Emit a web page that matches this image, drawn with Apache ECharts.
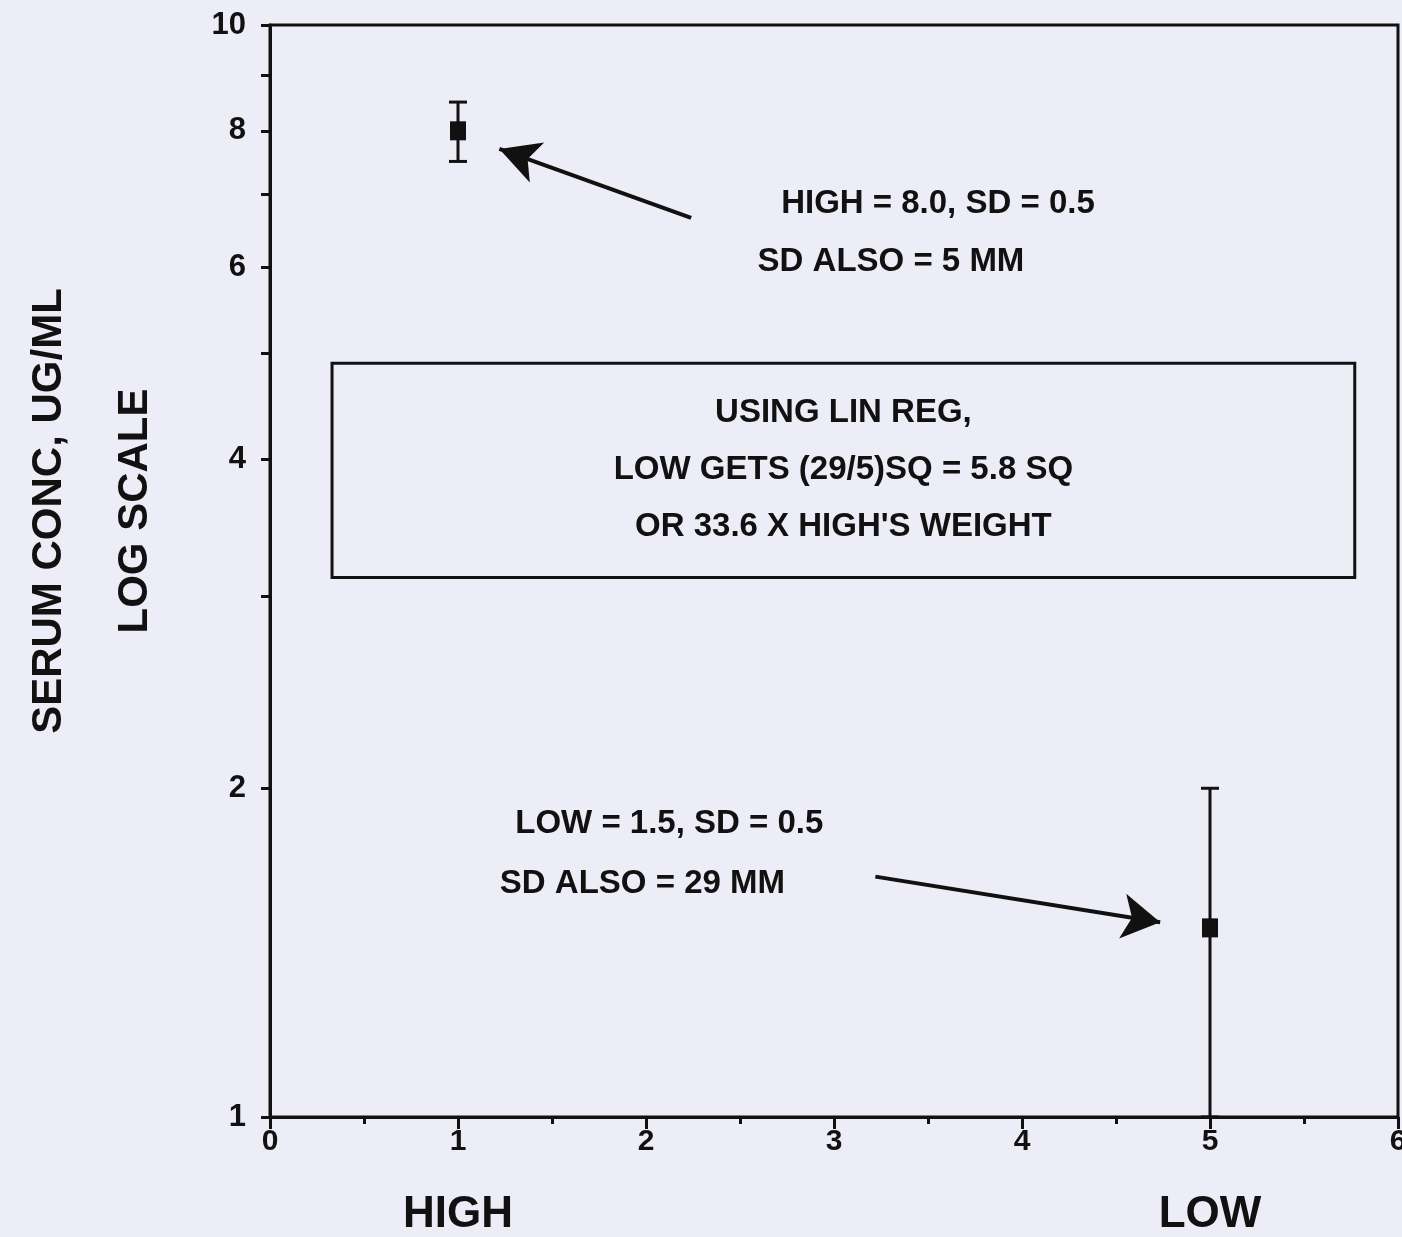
<!DOCTYPE html>
<html>
<head>
<meta charset="utf-8">
<script src="https://cdn.jsdelivr.net/npm/echarts@6/dist/echarts.min.js"></script>
<style>
html,body{margin:0;padding:0;background:#ededf7;}
#chart{width:1402px;height:1237px;}
</style>
</head>
<body>
<div id="chart"></div>
<script>
// ---- data ----
const groupX = [1, 5];
const groupNames = ['HIGH', 'LOW'];
const means = [8.0, 1.49];
const lowerBounds = [7.5, 1.0];
const upperBounds = [8.5, 2.0];
const yLabelValues = [1, 2, 4, 6, 8, 10];
const yTickValues = [1, 2, 3, 4, 5, 6, 7, 8, 9, 10];
const xTickLabels = [0, 1, 2, 3, 4, 5, 6];

const FONT = '"Liberation Sans", Arial, sans-serif';
const INK = '#111';

const chart = echarts.init(document.getElementById('chart'));

const pointData = groupX.map((x, i) => [x, means[i]]);
const errData = groupX.map((x, i) => [x, lowerBounds[i], upperBounds[i]]);

const option = {
  backgroundColor: '#ededf7',
  animation: false,
  grid: {
    left: 270, top: 25, right: 4, bottom: 120,
    outerBoundsMode: 'none', containLabel: false,
    show: true, borderColor: INK, borderWidth: 3, backgroundColor: 'transparent'
  },
  xAxis: [{
    type: 'value', min: 0, max: 6, interval: 1,
    axisLine: { show: true, onZero: false, lineStyle: { color: INK, width: 3 } },
    axisTick: { show: true, inside: false, length: 12, lineStyle: { color: INK, width: 3 } },
    minorTick: { show: true, splitNumber: 2, length: 7, lineStyle: { color: INK, width: 3 } },
    splitLine: { show: false },
    axisLabel: {
      color: INK, fontFamily: FONT, fontWeight: 'bold', fontSize: 30, margin: 10,
      showMinLabel: true, showMaxLabel: true,
      formatter: v => xTickLabels.includes(v) ? String(v) : ''
    }
  }, {
    type: 'value', min: 0, max: 6, interval: 1, position: 'bottom', offset: 76,
    axisLine: { show: false }, axisTick: { show: false }, splitLine: { show: false },
    axisLabel: {
      color: INK, fontFamily: FONT, fontWeight: 'bold', fontSize: 44, margin: 0,
      formatter: v => { const i = groupX.indexOf(v); return i >= 0 ? groupNames[i] : ''; }
    }
  }],
  yAxis: {
    type: 'log', logBase: 10, min: 1, max: 10,
    name: 'SERUM CONC, UG/ML\nLOG SCALE',
    nameLocation: 'middle', nameRotate: 90, nameGap: 92,
    nameTextStyle: {
      color: INK, fontFamily: FONT, fontWeight: 'bold', fontSize: 42, lineHeight: 86,
      padding: [0, 0, 0, 120]
    },
    axisLine: { show: true, lineStyle: { color: INK, width: 3 } },
    axisTick: { show: true, length: 9, customValues: yTickValues, lineStyle: { color: INK, width: 3 } },
    splitLine: { show: false },
    axisLabel: {
      color: INK, fontFamily: FONT, fontWeight: 'bold', fontSize: 31, margin: 24,
      customValues: yLabelValues
    }
  },
  series: [{
    type: 'custom',
    xAxisIndex: 0,
    data: errData,
    renderItem: function (params, api) {
      const x = api.value(0);
      const lo = api.coord([x, api.value(1)]);
      const hi = api.coord([x, api.value(2)]);
      const cw = 9;
      const style = { stroke: INK, lineWidth: 3 };
      return {
        type: 'group',
        children: [
          { type: 'line', shape: { x1: lo[0], y1: lo[1], x2: hi[0], y2: hi[1] }, style },
          { type: 'line', shape: { x1: hi[0] - cw, y1: hi[1], x2: hi[0] + cw, y2: hi[1] }, style },
          { type: 'line', shape: { x1: lo[0] - cw, y1: lo[1], x2: lo[0] + cw, y2: lo[1] }, style }
        ]
      };
    },
    z: 3
  }, {
    type: 'scatter',
    xAxisIndex: 0,
    data: pointData,
    symbol: 'rect',
    symbolSize: [16, 19],
    itemStyle: { color: INK, opacity: 1 },
    z: 4,
    markLine: {
      silent: true,
      symbol: ['none', 'arrow'],
      symbolSize: 30,
      lineStyle: { color: INK, width: 4, type: 'solid', opacity: 1 },
      itemStyle: { color: INK },
      label: { show: false },
      emphasis: { disabled: true },
      data: [
        [{ coord: [2.24, 6.66] }, { coord: [1.22, 7.70], symbol: 'arrow', symbolSize: [32, 40] }],
        [{ coord: [3.22, 1.66] }, { coord: [4.735, 1.508], symbol: 'arrow', symbolSize: [34, 38] }]
      ]
    },
    markArea: {
      silent: true,
      itemStyle: { color: 'rgba(0,0,0,0)', borderColor: INK, borderWidth: 3 },
      label: {
        show: true, position: 'inside', color: INK, fontFamily: FONT, fontWeight: 'bold',
        fontSize: 33, lineHeight: 57, align: 'center', verticalAlign: 'middle'
      },
      data: [[
        { coord: [0.33, 4.9], name: 'USING LIN REG,\nLOW GETS (29/5)SQ = 5.8 SQ\nOR 33.6 X HIGH\'S WEIGHT' },
        { coord: [5.77, 3.12] }
      ]]
    },
    markPoint: {
      silent: true,
      symbol: 'circle', symbolSize: 0,
      label: {
        show: true, position: 'inside', color: INK, fontFamily: FONT, fontWeight: 'bold',
        fontSize: 33, formatter: p => p.name
      },
      data: [
        { coord: [3.553, 6.86], name: 'HIGH = 8.0, SD = 0.5' },
        { coord: [3.303, 6.07], name: 'SD ALSO = 5 MM' },
        { coord: [2.124, 1.855], name: 'LOW = 1.5, SD = 0.5' },
        { coord: [1.981, 1.635], name: 'SD ALSO = 29 MM' }
      ]
    }
  }]
};

chart.setOption(option);
</script>
</body>
</html>
